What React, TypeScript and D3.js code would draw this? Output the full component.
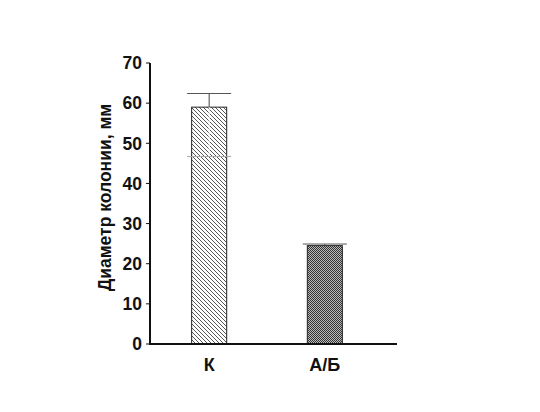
import React from "react";
import * as d3 from "d3";

const categories = ["К", "А/Б"];
const means = [59, 24.5];
const errUpper = [62.4, 24.9];
const errLower = [46.7, 24.3];
const yTicks = [0, 10, 20, 30, 40, 50, 60, 70];
const yLabel = "Диаметр колонии, мм";

export default function App() {
  const W = 540, H = 412;
  const x0 = 150, x1 = 397, yTop = 63, yBot = 344;
  const y = d3.scaleLinear().domain([0, 70]).range([yBot, yTop]);
  const x = d3.scaleBand().domain(categories).range([x0, 384]).paddingInner(0.697).paddingOuter(0.36);
  const font = "Arial, 'Liberation Sans', sans-serif";
  return (
    <svg width={W} height={H} style={{ position: "absolute", left: 0, top: 0, background: "#fff" }}>
      <defs>
        <pattern id="diag" width="4" height="4" patternUnits="userSpaceOnUse">
          <rect width="4" height="4" fill="#fff" />
          <path d="M-1,-1 L5,5 M-1,3 L1,5 M3,-1 L5,1" stroke="#444" strokeWidth="0.9" />
        </pattern>
        <pattern id="check" width="2" height="2" patternUnits="userSpaceOnUse">
          <rect width="2" height="2" fill="#bbb" />
          <rect width="1" height="1" fill="#333" />
          <rect x="1" y="1" width="1" height="1" fill="#333" />
        </pattern>
      </defs>
      {categories.map((c, i) => {
        const bx = x(c)!;
        const bw = x.bandwidth();
        const cx = bx + bw / 2;
        return (
          <g key={c}>
            <rect x={bx} y={y(means[i])} width={bw} height={yBot - y(means[i])}
              fill={i === 0 ? "url(#diag)" : "url(#check)"} stroke="#222" strokeWidth={1} />
            <line x1={cx} x2={cx} y1={y(means[i])} y2={y(errUpper[i])} stroke="#444" strokeWidth={1} />
            <line x1={cx - 22} x2={cx + 22} y1={y(errUpper[i])} y2={y(errUpper[i])} stroke="#555" strokeWidth={1} />
            {i === 0 && (
              <g>
                <line x1={cx} x2={cx} y1={y(means[i])} y2={y(errLower[i])} stroke="#fff" strokeWidth={1} />
                <line x1={cx - 22} x2={cx + 22} y1={y(errLower[i])} y2={y(errLower[i])} stroke="#aaa" strokeWidth={1} />
              </g>
            )}
            <text x={cx} y={371} textAnchor="middle" fontFamily={font} fontWeight="bold" fontSize={18} fill="#111">{c}</text>
          </g>
        );
      })}
      <line x1={x0} x2={x0} y1={yTop} y2={yBot} stroke="#111" strokeWidth={2} />
      <line x1={x0 - 1} x2={x1} y1={yBot} y2={yBot} stroke="#111" strokeWidth={2} />
      {yTicks.map(t => (
        <g key={t}>
          <line x1={x0 - 4} x2={x0} y1={y(t)} y2={y(t)} stroke="#111" strokeWidth={1} />
          <text x={142} y={y(t)} dy="0.36em" textAnchor="end" fontFamily={font} fontWeight="bold" fontSize={17.5} fill="#111">{t}</text>
        </g>
      ))}
      <text transform={`translate(111,${(100 + 295) / 2}) rotate(-90)`} textAnchor="middle"
        fontFamily={font} fontWeight="bold" fontSize={17.5} fill="#111">{yLabel}</text>
    </svg>
  );
}
